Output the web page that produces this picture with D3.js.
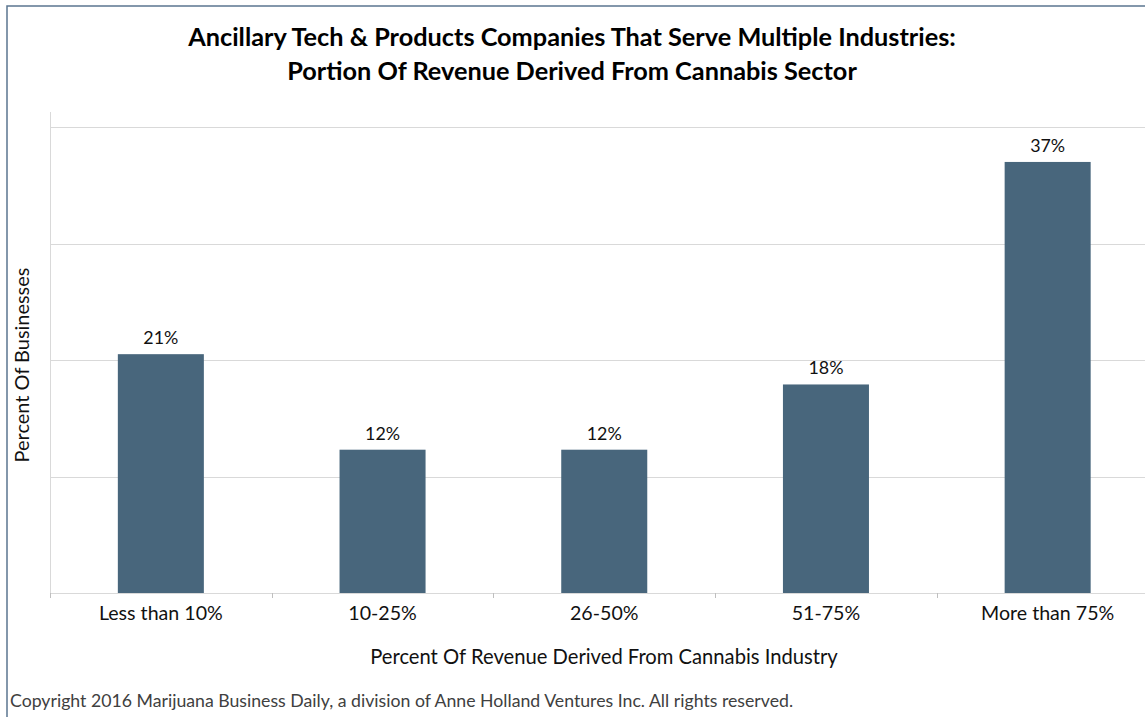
<!DOCTYPE html>
<html><head><meta charset="utf-8">
<script src="https://cdn.jsdelivr.net/npm/d3@7"></script>
<style>html,body{margin:0;padding:0;background:#fff;} svg{display:block;}</style>
</head><body>
<script>
const categories = ["Less than 10%", "10-25%", "26-50%", "51-75%", "More than 75%"];
const values = [20.5, 12.3, 12.3, 17.9, 37.0];
const yTicks = [0, 10, 20, 30, 40];
const titleLines = ["Ancillary Tech & Products Companies That Serve Multiple Industries:", "Portion Of Revenue Derived From Cannabis Sector"];
const xTitle = "Percent Of Revenue Derived From Cannabis Industry";
const yTitle = "Percent Of Businesses";
const copyright = "Copyright 2016 Marijuana Business Daily, a division of Anne Holland Ventures Inc. All rights reserved.";

const W = 1145, H = 717;
const FONT = "Lato, 'Open Sans', sans-serif";
const svg = d3.select("body").append("svg").attr("width", W).attr("height", H);

// font size that makes a given string reach a target width
function fitSize(str, target, weight) {
  const t = svg.append("text").attr("font-family", FONT).attr("font-size", 20)
    .attr("font-weight", weight || "normal").text(str);
  const w = t.node().getComputedTextLength();
  t.remove();
  return w > 0 ? +(20 * target / w).toFixed(2) : 18;
}

// frame
svg.append("path").attr("d", `M7,${H} L7,6 L${W},6`).attr("fill", "none")
  .attr("stroke", "#5b7690").attr("stroke-width", 1.5);

const x0 = 50, bandW = 221.7;
const x = d3.scaleBand().domain(categories).range([x0, x0 + bandW * categories.length]).paddingInner(0.612).paddingOuter(0.306);
const y = d3.scaleLinear().domain([0, 40]).range([593, 127]);

// gridlines
svg.append("g").selectAll("line").data(yTicks.slice(1)).join("line")
  .attr("x1", x0).attr("x2", W).attr("y1", d => Math.round(y(d)) + 0.5).attr("y2", d => Math.round(y(d)) + 0.5)
  .attr("stroke", "#d9d9d9").attr("stroke-width", 1);

// y axis line
svg.append("line").attr("x1", x0 + 0.5).attr("x2", x0 + 0.5).attr("y1", 112).attr("y2", 597)
  .attr("stroke", "#d9d9d9");

// bars
svg.append("g").selectAll("rect").data(values).join("rect")
  .attr("x", (d, i) => x(categories[i])).attr("width", x.bandwidth())
  .attr("y", d => y(d)).attr("height", d => y(0) - y(d))
  .attr("fill", "#48667c");

// x axis line + boundary ticks
svg.append("line").attr("x1", x0).attr("x2", W).attr("y1", 593.5).attr("y2", 593.5).attr("stroke", "#d9d9d9");
const bounds = d3.range(categories.length + 1).map(i => x0 + i * bandW);
svg.append("g").selectAll("line").data(bounds).join("line")
  .attr("x1", d => Math.round(d) + 0.5).attr("x2", d => Math.round(d) + 0.5).attr("y1", 593).attr("y2", 598)
  .attr("stroke", "#bfbfbf");

// category labels
const catSize = fitSize(categories[0], 124);
svg.append("g").selectAll("text").data(categories).join("text")
  .attr("x", d => x(d) + x.bandwidth() / 2).attr("y", 620)
  .attr("text-anchor", "middle").attr("font-family", FONT).attr("font-size", catSize).attr("fill", "#111")
  .text(d => d);

// value labels
const fmt = d3.format(".0f");
const valSize = fitSize("37%", 35);
svg.append("g").selectAll("text").data(values).join("text")
  .attr("x", (d, i) => x(categories[i]) + x.bandwidth() / 2).attr("y", d => y(d) - 10)
  .attr("text-anchor", "middle").attr("font-family", FONT).attr("font-size", valSize).attr("fill", "#111")
  .text(d => fmt(d) + "%");

// titles
const tSize = fitSize(titleLines[0], 768, "bold");
svg.append("g").selectAll("text").data(titleLines).join("text")
  .attr("x", 572).attr("y", (d, i) => 46 + i * 34).attr("text-anchor", "middle")
  .attr("font-family", FONT).attr("font-weight", "bold").attr("font-size", tSize).attr("fill", "#000").text(d => d);

svg.append("text").attr("x", 604).attr("y", 664).attr("text-anchor", "middle")
  .attr("font-family", FONT).attr("font-size", fitSize(xTitle, 468)).attr("fill", "#111").text(xTitle);

svg.append("text").attr("transform", "translate(29,365) rotate(-90)").attr("text-anchor", "middle")
  .attr("font-family", FONT).attr("font-size", fitSize(yTitle, 195)).attr("fill", "#111").text(yTitle);

svg.append("text").attr("x", 10).attr("y", 707)
  .attr("font-family", FONT).attr("font-size", fitSize(copyright, 783)).attr("fill", "#404040").text(copyright);
</script>
</body></html>
